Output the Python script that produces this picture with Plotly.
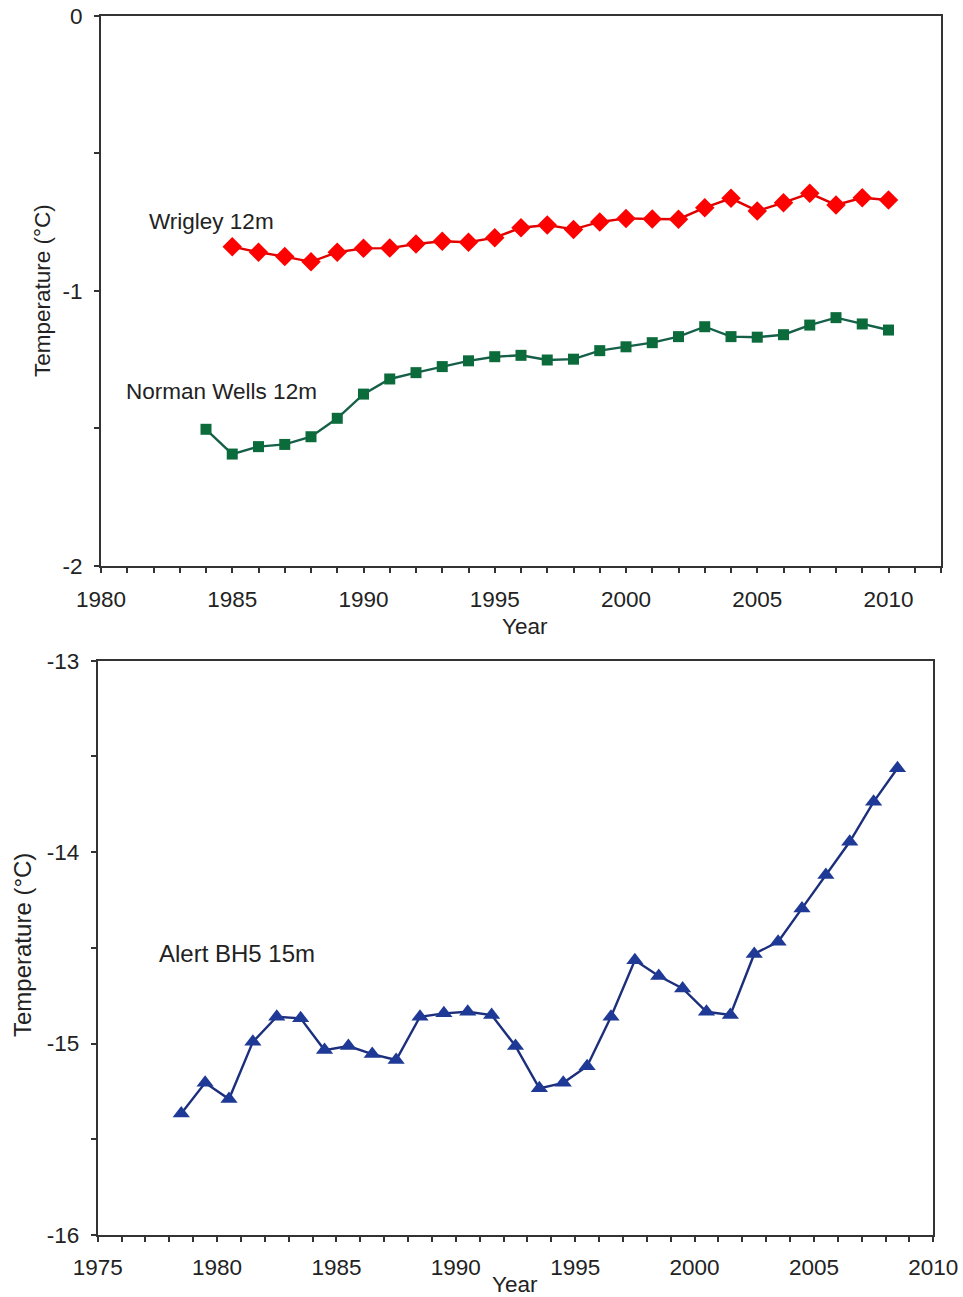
import plotly.graph_objects as go

# ---------------- data ----------------
wrigley_years = list(range(1985, 2011))
wrigley_temp = [-0.840, -0.860, -0.876, -0.895, -0.860, -0.846, -0.845, -0.830, -0.820, -0.824,
                -0.807, -0.771, -0.761, -0.777, -0.750, -0.737, -0.739, -0.740, -0.698, -0.664,
                -0.710, -0.680, -0.646, -0.688, -0.662, -0.670]

norman_years = list(range(1984, 2011))
norman_temp = [-1.504, -1.594, -1.567, -1.559, -1.531, -1.464, -1.376, -1.321, -1.298, -1.276,
               -1.255, -1.240, -1.235, -1.252, -1.249, -1.218, -1.204, -1.189, -1.167, -1.131,
               -1.167, -1.169, -1.160, -1.125, -1.098, -1.121, -1.143]

alert_years = [1978.5 + i for i in range(31)]
alert_temp = [-15.365, -15.205, -15.290, -14.991, -14.860, -14.868, -15.034, -15.013, -15.055, -15.086,
              -14.860, -14.842, -14.834, -14.851, -15.013, -15.234, -15.205, -15.118, -14.860, -14.565,
              -14.647, -14.712, -14.834, -14.851, -14.532, -14.468, -14.294, -14.120, -13.946, -13.737,
              -13.562]

top_xticks = list(range(1980, 2013))
top_yticks = [0, -0.5, -1, -1.5, -2]
bot_xticks = list(range(1975, 2011))
bot_yticks = [-13, -13.5, -14, -14.5, -15, -15.5, -16]

W, H = 963, 1297
FONT = "Liberation Sans, Arial, sans-serif"
AX = "#333333"


def px(x):
    return x / W


def py(y):
    return 1 - y / H


fig = go.Figure()

fig.add_trace(go.Scatter(x=wrigley_years, y=wrigley_temp, mode="lines+markers",
                         line=dict(color="#e00000", width=2.4),
                         marker=dict(symbol="diamond", size=15, color="#ff0000"),
                         xaxis="x", yaxis="y", showlegend=False))
fig.add_trace(go.Scatter(x=norman_years, y=norman_temp, mode="lines+markers",
                         line=dict(color="#16604a", width=2.4),
                         marker=dict(symbol="square", size=11, color="#0b6b3a"),
                         xaxis="x", yaxis="y", showlegend=False))
fig.add_trace(go.Scatter(x=alert_years, y=alert_temp, mode="lines+markers",
                         line=dict(color="#1c2f7c", width=2.4),
                         marker=dict(symbol="triangle-up", size=15, color="#1f3a96"),
                         xaxis="x2", yaxis="y2", showlegend=False))


def lab(v, step):
    return str(v) if v % step == 0 else ""


def ylab(v):
    return str(int(v)) if float(v).is_integer() else ""


def axis_style(standoff):
    return dict(showline=True, linecolor=AX, linewidth=2, mirror=True, ticks="outside",
                ticklen=5, tickwidth=1.5, tickcolor=AX, showgrid=False, zeroline=False,
                tickfont=dict(family=FONT, size=22.5, color="#222"), automargin=False,
                ticklabelstandoff=standoff, fixedrange=True)


fig.update_layout(
    width=W, height=H, margin=dict(l=0, r=0, t=0, b=0),
    paper_bgcolor="white", plot_bgcolor="white",
    xaxis=dict(domain=[px(101), px(941)], anchor="y", range=[1980, 2012],
               tickmode="array", tickvals=top_xticks,
               ticktext=[lab(v, 5) for v in top_xticks], **axis_style(7)),
    yaxis=dict(domain=[py(565.7), py(15.7)], anchor="x", range=[-2, 0],
               tickmode="array", tickvals=top_yticks,
               ticktext=[ylab(v) for v in top_yticks], **axis_style(7)),
    xaxis2=dict(domain=[px(97.7), px(933.3)], anchor="y2", range=[1975, 2010],
                tickmode="array", tickvals=bot_xticks,
                ticktext=[lab(v, 5) for v in bot_xticks], **axis_style(6)),
    yaxis2=dict(domain=[py(1235), py(660.7)], anchor="x2", range=[-16, -13],
                tickmode="array", tickvals=bot_yticks,
                ticktext=[ylab(v) for v in bot_yticks], **axis_style(7)),
)

f_top = dict(family=FONT, size=22.5, color="#222")
f_bot = dict(family=FONT, size=24, color="#222")
annos = [
    dict(text="Wrigley 12m", x=1981.75, y=-0.747, xref="x", yref="y", xanchor="left", yanchor="middle", font=f_top),
    dict(text="Norman Wells 12m", x=1980.88, y=-1.368, xref="x", yref="y", xanchor="left", yanchor="middle", font=f_top),
    dict(text="Alert BH5 15m", x=1977.48, y=-14.527, xref="x2", yref="y2", xanchor="left", yanchor="middle", font=f_bot),
    dict(text="Year", x=px(525), y=py(626), xref="paper", yref="paper", xanchor="center", yanchor="middle", font=f_top),
    dict(text="Year", x=px(515), y=py(1284), xref="paper", yref="paper", xanchor="center", yanchor="middle", font=f_top),
    dict(text="Temperature (°C)", x=px(42), y=py(291), xref="paper", yref="paper",
         xanchor="center", yanchor="middle", textangle=-90, font=f_top),
    dict(text="Temperature (°C)", x=px(22), y=py(945), xref="paper", yref="paper",
         xanchor="center", yanchor="middle", textangle=-90, font=f_bot),
]
for a in annos:
    a.update(showarrow=False)
    fig.add_annotation(**a)

# remove the default page margin so the figure fills the window exactly
fig.write_html("out.html", config={"displayModeBar": False},
               post_script="document.body.style.margin='0';document.body.style.overflow='hidden';")
